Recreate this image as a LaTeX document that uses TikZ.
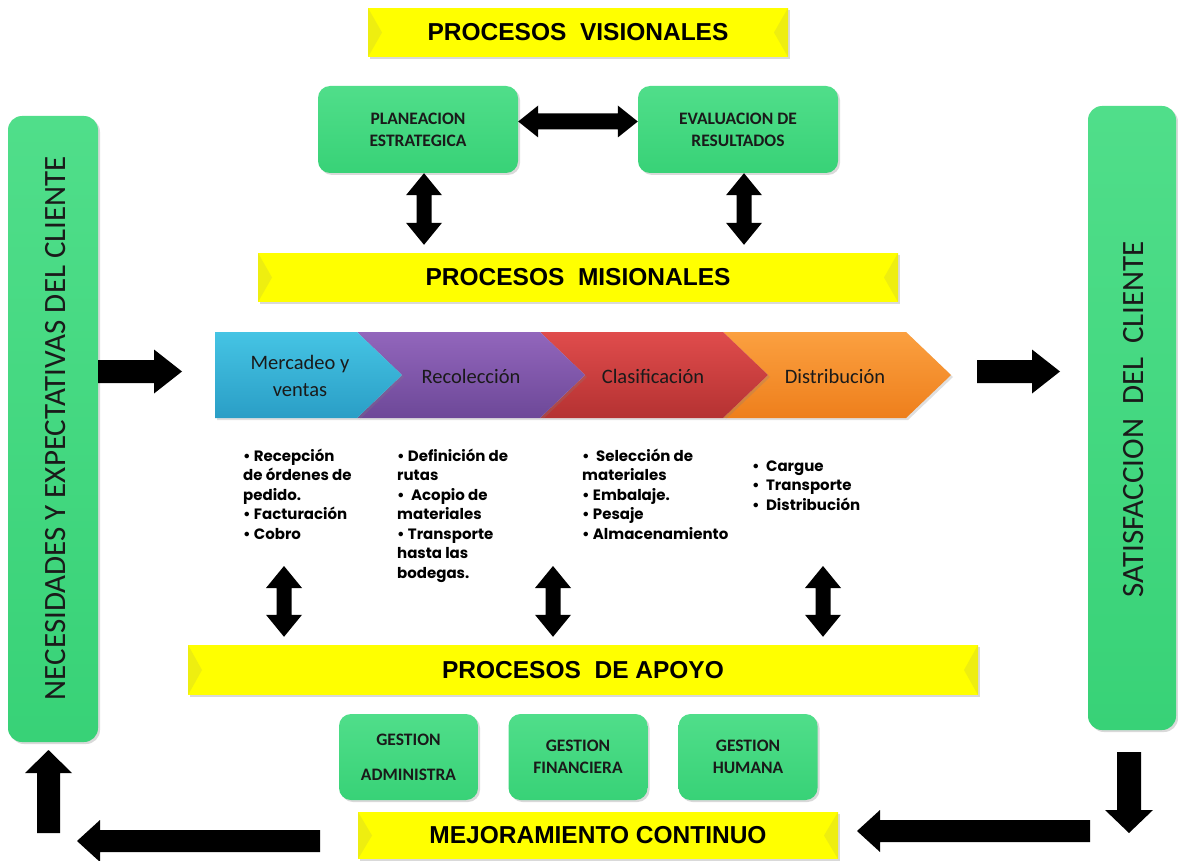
\documentclass[tikz,border=0pt]{standalone}
\usepackage{fontspec}
\usetikzlibrary{calc,shadows}
\newfontfamily\banfont{Liberation Sans}
\newfontfamily\calfont{Carlito}
\newfontfamily\gotfont{Poppins}
\definecolor{ylw}{HTML}{FFFF00}
\definecolor{ylwD}{HTML}{EEEE10}
\definecolor{grnT}{HTML}{50DE8A}
\definecolor{grnB}{HTML}{38D277}
\definecolor{tealT}{HTML}{45C4E4}
\definecolor{tealB}{HTML}{2A9EC6}
\definecolor{purT}{HTML}{9266BC}
\definecolor{purB}{HTML}{6D4898}
\definecolor{redT}{HTML}{E04C4C}
\definecolor{redB}{HTML}{B53232}
\definecolor{orgT}{HTML}{FBA040}
\definecolor{orgB}{HTML}{EE7F1C}
\definecolor{txt}{HTML}{1A1A1A}
% block arrows
\newcommand\vdbl[2]{\fill[black] #1 -- ($#1+(18,22)$) -- ($#1+(7.5,22)$) -- ($#2+(7.5,-22)$) -- ($#2+(18,-22)$) -- #2 -- ($#2+(-18,-22)$) -- ($#2+(-7.5,-22)$) -- ($#1+(-7.5,22)$) -- ($#1+(-18,22)$) -- cycle;}
\newcommand\hdbl[2]{\fill[black] #1 -- ($#1+(20,-16)$) -- ($#1+(20,-8)$) -- ($#2+(-20,-8)$) -- ($#2+(-20,-16)$) -- #2 -- ($#2+(-20,16)$) -- ($#2+(-20,8)$) -- ($#1+(20,8)$) -- ($#1+(20,16)$) -- cycle;}
\newcommand\rarr[2]{\fill[black] ($#1+(0,-11.5)$) -- ($#2+(-28,-11.5)$) -- ($#2+(-28,-22)$) -- #2 -- ($#2+(-28,22)$) -- ($#2+(-28,11.5)$) -- ($#1+(0,11.5)$) -- cycle;}
\newcommand\larr[2]{\fill[black] ($#1+(0,-11)$) -- ($#2+(23,-11)$) -- ($#2+(23,-21)$) -- #2 -- ($#2+(23,21)$) -- ($#2+(23,11)$) -- ($#1+(0,11)$) -- cycle;}
\newcommand\darr[2]{\fill[black] ($#1+(-12,0)$) -- ($#2+(-12,-23)$) -- ($#2+(-24,-23)$) -- #2 -- ($#2+(24,-23)$) -- ($#2+(12,-23)$) -- ($#1+(12,0)$) -- cycle;}
\newcommand\uarr[2]{\fill[black] ($#1+(-11.5,0)$) -- ($#2+(-11.5,23)$) -- ($#2+(-23.5,23)$) -- #2 -- ($#2+(23.5,23)$) -- ($#2+(11.5,23)$) -- ($#1+(11.5,0)$) -- cycle;}
\begin{document}
\begin{tikzpicture}[x=1pt,y=-1pt,
  banner/.style={fill=ylw, inner sep=0pt, text=black,
    font=\banfont\bfseries\fontsize{24.5}{28}\selectfont,
    drop shadow={shadow xshift=2pt,shadow yshift=-2pt,opacity=0.3},
    path picture={
      \fill[ylwD] (path picture bounding box.north west) -- ($(path picture bounding box.west)+(14,0)$) -- (path picture bounding box.south west) -- cycle;
      \fill[ylwD] (path picture bounding box.north east) -- ($(path picture bounding box.east)+(-14,0)$) -- (path picture bounding box.south east) -- cycle;}},
  gbox/.style={rounded corners=12pt, top color=grnT, bottom color=grnB, draw=none,
    drop shadow={shadow xshift=2pt,shadow yshift=-2pt,opacity=0.3},
    align=center, inner sep=0pt, text=txt,
    font=\calfont\bfseries\fontsize{17.5}{22}\selectfont},
  sidetxt/.style={rotate=90, inner sep=0pt, text=txt, font=\calfont\fontsize{31}{36}\selectfont},
  chevtxt/.style={inner sep=0pt, align=center, text=txt, font=\calfont\fontsize{20.5}{27}\selectfont},
  bullets/.style={anchor=north west, inner sep=0pt, align=left, text=black,
    font=\gotfont\bfseries\fontsize{15}{19.5}\selectfont},
  chevshadow/.style={drop shadow={shadow xshift=2pt,shadow yshift=-2pt,opacity=0.25}}
]
\useasboundingbox (0,0) rectangle (1178,861);

% banners
\node[banner, minimum width=420pt, minimum height=49pt] (vis) at (578,32.5) {PROCESOS\ \ VISIONALES};
\node[banner, minimum width=640pt, minimum height=49pt] (mis) at (578,277.5) {PROCESOS\ \ MISIONALES};
\node[banner, minimum width=790pt, minimum height=50pt] (apo) at (583,670) {PROCESOS\ \ DE APOYO};
\node[banner, minimum width=480pt, minimum height=47pt] (mej) at (598,835.5) {MEJORAMIENTO CONTINUO};

% green boxes
\node[gbox, minimum width=200pt, minimum height=87pt] (pe) at (418,129.5) {PLANEACION\\ESTRATEGICA};
\node[gbox, minimum width=200pt, minimum height=87pt] (ev) at (738,129.5) {EVALUACION DE\\RESULTADOS};
\node[gbox, minimum width=139pt, minimum height=86pt] (ga) at (408.5,757) {GESTION\\[13pt]ADMINISTRA};
\node[gbox, minimum width=139pt, minimum height=86pt] (gf) at (578,757) {GESTION\\FINANCIERA};
\node[gbox, minimum width=139pt, minimum height=86pt] (gh) at (748,757) {GESTION\\HUMANA};

% tall side boxes
\node[gbox, rounded corners=14pt, minimum width=90pt, minimum height=626pt] (lbox) at (53,429) {};
\node[sidetxt] (ltxt) at (56,428) {NECESIDADES Y EXPECTATIVAS DEL CLIENTE};
\node[gbox, rounded corners=14pt, minimum width=88pt, minimum height=624pt] (rbox) at (1132,418) {};
\node[sidetxt] (rtxt) at (1134,419) {SATISFACCION\ \ DEL\ \ CLIENTE};

% chevrons
\shade[chevshadow, top color=orgT, bottom color=orgB] (723,332) -- (906,332) -- (951,375) -- (906,418) -- (723,418) -- (768,375) -- cycle;
\shade[chevshadow, top color=redT, bottom color=redB] (540,332) -- (723,332) -- (768,375) -- (723,418) -- (540,418) -- (585,375) -- cycle;
\shade[chevshadow, top color=purT, bottom color=purB] (357,332) -- (540,332) -- (585,375) -- (540,418) -- (357,418) -- (402,375) -- cycle;
\shade[chevshadow, top color=tealT, bottom color=tealB] (215,332) -- (357,332) -- (402,375) -- (357,418) -- (215,418) -- cycle;
\node[chevtxt] (c1) at (300,375.5) {Mercadeo y\\ventas};
\node[chevtxt] (c2) at (471,376) {Recolección};
\node[chevtxt] (c3) at (653,376) {Clasificación};
\node[chevtxt] (c4) at (835,376) {Distribución};

% bullet lists
\node[bullets] (b1) at (243,448.5) {• Recepción\\de órdenes de\\pedido.\\• Facturación\\• Cobro};
\node[bullets] (b2) at (397,448.5) {• Definición de\\rutas\\•\ \ Acopio de\\materiales\\• Transporte\\hasta las\\bodegas.};
\node[bullets] (b3) at (582,448.5) {•\ \ Selección de\\materiales\\• Embalaje.\\• Pesaje\\• Almacenamiento};
\node[bullets] (b4) at (752,460.5) {•\ \ Cargue\\•\ \ Transporte\\•\ \ Distribución};

% arrow coordinates
\coordinate (u1t) at ($(pe.south)+(6,0)$);
\coordinate (u1b) at ($(u1t |- mis.north)+(0,-8)$);
\coordinate (u2t) at ($(ev.south)+(6,0)$);
\coordinate (u2b) at ($(u2t |- mis.north)+(0,-8)$);
\coordinate (hl) at ($(pe.east)+(0,-8)$);
\coordinate (hr) at ($(ev.west)+(0,-8)$);
\coordinate (d1t) at (284,566);
\coordinate (d1b) at ($(d1t |- apo.north)+(0,-8)$);
\coordinate (d2t) at (553,566);
\coordinate (d2b) at ($(d2t |- apo.north)+(0,-8)$);
\coordinate (d3t) at (823,566);
\coordinate (d3b) at ($(d3t |- apo.north)+(0,-8)$);
\coordinate (ra1) at (lbox.east |- 0,371.5);
\coordinate (ra1tip) at (182,371.5);
\coordinate (ra2) at (977,371.5);
\coordinate (ra2tip) at (1060,371.5);
\coordinate (dat) at (1129,752);
\coordinate (datip) at (1129,833);
\coordinate (la1) at (1090,831);
\coordinate (la1tip) at (857,831);
\coordinate (la2) at (320,841);
\coordinate (la2tip) at (77,841);
\coordinate (uat) at (48.5,833);
\coordinate (uatip) at (48.5,750);

\hdbl{(hl)}{(hr)}
\vdbl{(u1t)}{(u1b)}
\vdbl{(u2t)}{(u2b)}
\vdbl{(d1t)}{(d1b)}
\vdbl{(d2t)}{(d2b)}
\vdbl{(d3t)}{(d3b)}
\rarr{(ra1)}{(ra1tip)}
\rarr{(ra2)}{(ra2tip)}
\darr{(dat)}{(datip)}
\larr{(la1)}{(la1tip)}
\larr{(la2)}{(la2tip)}
\uarr{(uat)}{(uatip)}
\end{tikzpicture}
\end{document}
